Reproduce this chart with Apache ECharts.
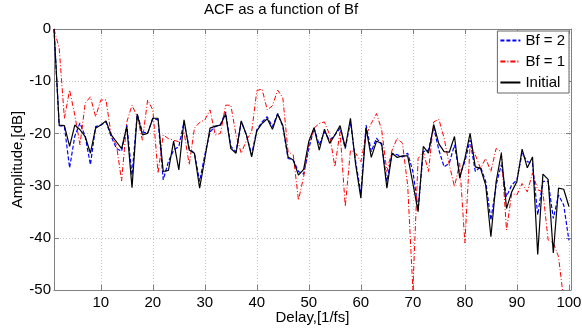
<!DOCTYPE html>
<html>
<head>
<meta charset="utf-8">
<script src="https://cdn.jsdelivr.net/npm/echarts@6/dist/echarts.min.js"></script>
<style>
  html, body { margin: 0; padding: 0; background: #fff; }
  #main { width: 582px; height: 330px; }
</style>
</head>
<body>
<div id="main"></div>
<script>
// delay index 1..100 (x positions of the samples)
const delay = []
for (let i = 1; i <= 100; i++) {
    delay.push(i)
}
const xTicks = [10, 20, 30, 40, 50, 60, 70, 80, 90, 100]

// Bf = 2 (blue dashed)
const bf2 = [0, -18.5, -18.7, -26.6, -20.5, -18, -20.6, -26, -18.7, -18.4,
    -17.8, -20.6, -22.9, -23.4, -18.4, -28, -16.3, -19.7, -20, -17.1,
    -17.4, -28.9, -25.4, -23.2, -22.5, -17.8, -22.9, -23.8, -29.2, -24.1,
    -19.7, -18.7, -18.3, -15.9, -22.5, -23.5, -17.8, -20.3, -24.1, -19.3,
    -17.8, -16.8, -18.7, -16.2, -18.7, -24.8, -25.1, -27.3, -27.8, -22.9,
    -19, -22.2, -19.7, -21.3, -20.3, -19, -22.9, -17.8, -25.4, -31.5,
    -18.4, -23.5, -20.9, -22.2, -29.2, -23.8, -24.1, -24.5, -23.8, -27.3,
    -34.5, -23.5, -23.2, -18.9, -23.2, -26.4, -25.7, -22.2, -28, -25.4,
    -21.3, -27.3, -26.4, -29.2, -36.6, -29.9, -26, -32.1, -29.9, -28.9,
    -23.8, -25.4, -25.7, -35.6, -29.2, -29.2, -36.3, -31.8, -33.7, -40.5]

// Bf = 1 (red dash-dot)
const bf1 = [0, -3.7, -17.1, -11.7, -16.5, -22.2, -14.2, -13, -16.8, -13.6,
    -13.6, -20.3, -22.2, -29.1, -17.8, -14.6, -16.8, -21.3, -13.6, -15.5,
    -27.6, -20.3, -21, -21.3, -21.6, -19.7, -26, -19, -17.9, -17.4,
    -15.5, -20.3, -20, -14.6, -14.6, -20.3, -23.8, -21.3, -19.7, -11.8,
    -11.5, -15.5, -14.7, -11.7, -13.2, -23.5, -24.1, -32.8, -28.3, -22.2,
    -19, -18.1, -17.8, -20.3, -26.4, -19.7, -34, -23.2, -23.8, -25.4,
    -20.3, -18.1, -16.2, -19.3, -27.3, -23.2, -20.9, -21.9, -30, -50,
    -24.8, -23.5, -27.3, -17.8, -17.3, -20.9, -26, -30.2, -25.7, -41,
    -22.2, -24.1, -26.7, -24.8, -27.3, -22.9, -23.5, -38.5, -31.5, -31.8,
    -29.6, -31.2, -27.6, -30.8, -31.2, -40.4, -41, -43.6, -52, -56]

// Initial (black solid)
const initial = [0, -18.4, -18.5, -22.5, -18.4, -19.3, -20.6, -23.8, -19, -18.4,
    -17.6, -20.3, -21.6, -22.9, -18.7, -30.4, -16.3, -20.3, -20, -17.1,
    -17.1, -27.3, -27.1, -21.5, -27, -17.4, -23.2, -23.8, -30.5, -24.8,
    -19, -18.6, -18.4, -16.3, -22.9, -23.8, -17.6, -20.3, -24.5, -19.5,
    -18.1, -17.2, -19.2, -16.3, -18.5, -24.5, -25.1, -28, -26.9, -21.5,
    -18.9, -23.2, -19.2, -21.9, -20.3, -18.5, -22.7, -17.1, -26, -32.4,
    -19, -24.6, -21.5, -21.9, -30.5, -23.8, -24.6, -24.3, -24.3, -29.6,
    -35, -22.5, -23.8, -18.3, -22, -23.5, -23.6, -20.6, -28.6, -24.8,
    -20, -26.4, -26.7, -29.9, -39.8, -29.3, -23.8, -34.4, -31.2, -29.2,
    -23, -26.6, -24.5, -43.2, -27.8, -28.8, -42.9, -30.5, -30.7, -34]

const font = 'Liberation Sans, Arial, sans-serif'
const boxColor = '#808080'
const gridLine = { show: true, lineStyle: { type: [1, 2], color: '#c4c4c4', width: 1 } }

function pairs(values) {
    return delay.map((d, i) => [d, values[i]])
}

const chart = echarts.init(document.getElementById('main'), null, { renderer: 'canvas' })

const option = {
    animation: false,
    backgroundColor: '#fff',
    title: {
        text: 'ACF as a function of Bf',
        left: 202,
        top: 0,
        padding: 2,
        textStyle: { fontFamily: font, fontSize: 15, fontWeight: 'normal', color: '#000' }
    },
    legend: {
        orient: 'vertical',
        right: 13,
        top: 31,
        padding: [2, 4, 3, 2],
        itemGap: 6,
        itemWidth: 20,
        itemHeight: 14,
        backgroundColor: '#fff',
        borderColor: '#666',
        borderWidth: 1,
        borderRadius: 0,
        itemStyle: { opacity: 0 },
        textStyle: { fontFamily: font, fontSize: 15, color: '#000' },
        data: ['Bf = 2', 'Bf = 1', 'Initial']
    },
    // fixed plot box, no auto shrink for labels
    grid: { left: 54, right: 11, top: 29, bottom: 40, outerBoundsMode: 'none' },
    xAxis: [{
        type: 'value',
        min: 1,
        max: 100.4,
        position: 'bottom',
        name: 'Delay,[1/fs]',
        nameLocation: 'middle',
        nameGap: 20,
        nameMoveOverlap: false,
        nameTextStyle: { fontFamily: font, fontSize: 15, color: '#000' },
        axisLine: { show: true, onZero: false, lineStyle: { color: boxColor } },
        axisTick: { show: true, inside: true, length: 5, customValues: xTicks, lineStyle: { color: boxColor } },
        axisLabel: { customValues: xTicks, fontFamily: font, fontSize: 15, color: '#000', margin: 5 },
        splitLine: gridLine
    }, {
        type: 'value',
        min: 1,
        max: 100.4,
        position: 'top',
        axisLine: { show: true, onZero: false, lineStyle: { color: boxColor } },
        axisTick: { show: true, inside: true, length: 5, customValues: xTicks, lineStyle: { color: boxColor } },
        axisLabel: { show: false },
        splitLine: { show: false }
    }],
    yAxis: [{
        type: 'value',
        min: -50,
        max: 0,
        interval: 10,
        position: 'left',
        name: 'Amplitude,[dB]',
        nameLocation: 'middle',
        nameGap: 29,
        nameMoveOverlap: false,
        nameTextStyle: { fontFamily: font, fontSize: 15, color: '#000' },
        axisLine: { show: true, onZero: false, lineStyle: { color: boxColor } },
        axisTick: { show: true, inside: true, length: 5, lineStyle: { color: boxColor } },
        axisLabel: { fontFamily: font, fontSize: 15, color: '#000', margin: 3 },
        splitLine: gridLine
    }, {
        type: 'value',
        min: -50,
        max: 0,
        interval: 10,
        position: 'right',
        axisLine: { show: true, onZero: false, lineStyle: { color: boxColor } },
        axisTick: { show: true, inside: true, length: 5, lineStyle: { color: boxColor } },
        axisLabel: { show: false },
        splitLine: { show: false }
    }],
    series: [{
        name: 'Bf = 2',
        type: 'line',
        data: pairs(bf2),
        symbol: 'none',
        clip: true,
        lineStyle: { color: '#0000ff', width: 1.2, type: [4, 2] },
        itemStyle: { color: '#0000ff' }
    }, {
        name: 'Bf = 1',
        type: 'line',
        data: pairs(bf1),
        symbol: 'none',
        clip: true,
        lineStyle: { color: '#ff0000', width: 1, type: [5, 2, 1, 2] },
        itemStyle: { color: '#ff0000' }
    }, {
        name: 'Initial',
        type: 'line',
        data: pairs(initial),
        symbol: 'none',
        clip: true,
        lineStyle: { color: '#000', width: 1.2, type: 'solid' },
        itemStyle: { color: '#000' }
    }]
}

chart.setOption(option)
</script>
</body>
</html>
